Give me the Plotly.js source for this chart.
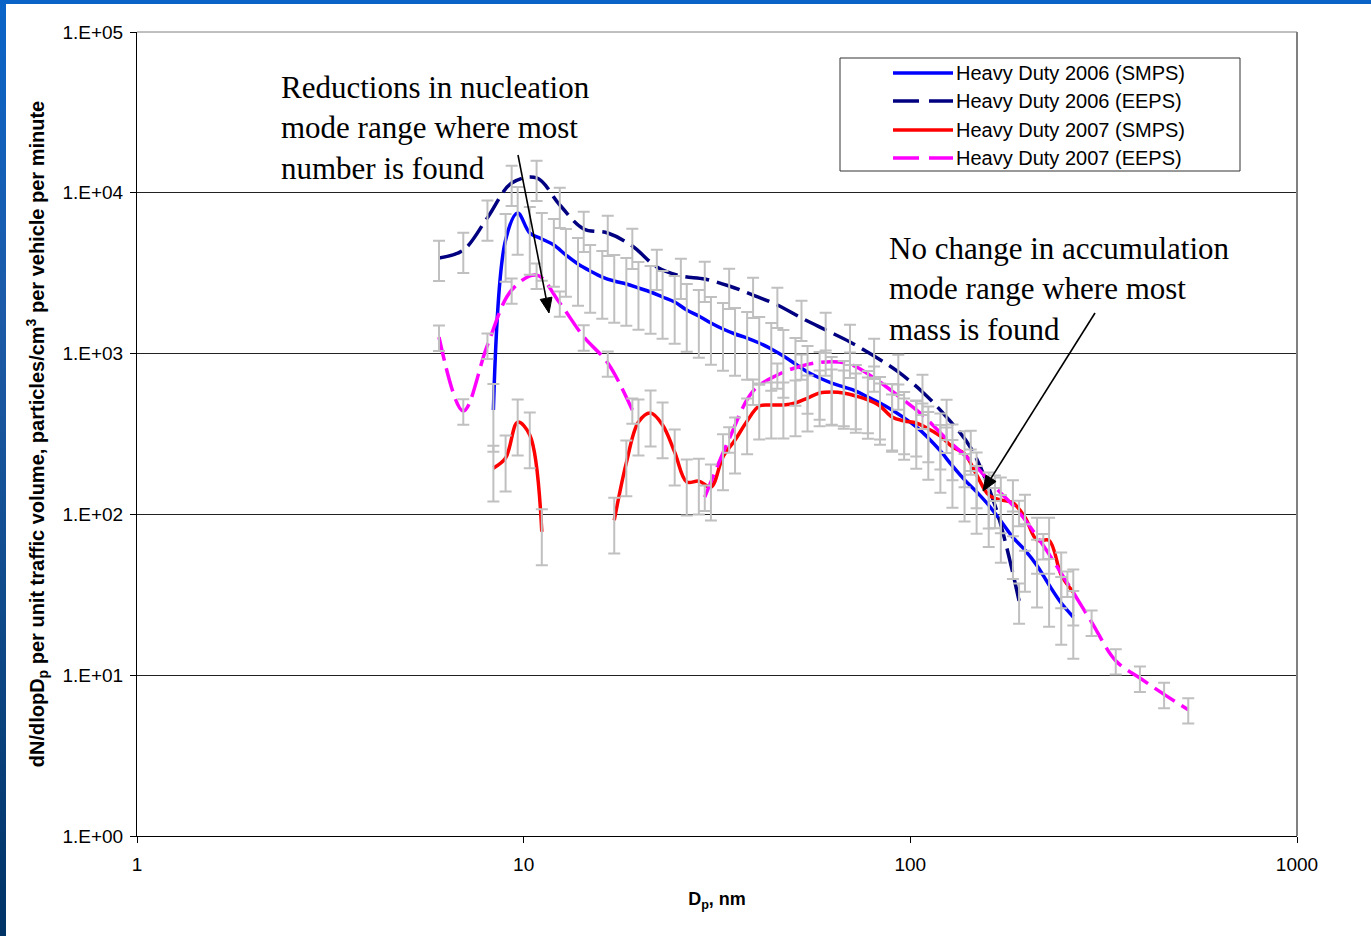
<!DOCTYPE html>
<html>
<head>
<meta charset="utf-8">
<script src="https://cdn.plot.ly/plotly-3.0.1.min.js"></script>
<style>
html,body{margin:0;padding:0;background:#fff;width:1371px;height:936px;overflow:hidden;}
#chart{position:absolute;left:0;top:0;width:1371px;height:936px;}
#topbar{position:absolute;left:0;top:0;width:1371px;height:4px;background:#0a64c8;z-index:5;}
#leftbar{position:absolute;left:0;top:0;width:6px;height:936px;background:linear-gradient(to bottom,#0a64c8 0%,#1d5aa6 35%,#0f4a8a 65%,#003366 100%);z-index:5;}
</style>
</head>
<body>
<div id="chart"></div>
<div id="topbar"></div>
<div id="leftbar"></div>
<script>
// ---- Data ----
const seriesNames = ["Heavy Duty 2006 (SMPS)", "Heavy Duty 2006 (EEPS)", "Heavy Duty 2007 (SMPS)", "Heavy Duty 2007 (EEPS)"];

// EEPS channel diameters, nm
const eepsDiam = [6.04, 6.98, 8.06, 9.31, 10.8, 12.4, 14.3, 16.5, 19.1, 22.1, 25.5, 29.4, 34.0, 39.2, 45.3, 52.3,
  60.4, 69.8, 80.6, 93.1, 107.5, 124.1, 143.3, 165.5, 191.1, 220.7, 254.8, 294.3, 339.8, 392.4, 453.2, 523.3];

// SMPS channel diameters, nm
const smpsDiam = [8.35, 8.98, 9.65, 10.37, 11.14, 11.97, 12.86, 13.82, 14.86, 15.97, 17.15, 18.43, 19.81, 21.29,
  22.87, 24.58, 26.41, 28.38, 30.50, 32.77, 35.21, 37.84, 40.66, 43.69, 46.95, 50.45, 54.22, 58.26, 62.60, 67.27,
  72.29, 77.68, 83.47, 89.70, 96.38, 103.6, 111.3, 119.6, 128.5, 138.1, 148.4, 159.5, 171.4, 184.2, 197.9, 212.7,
  228.5, 245.6, 263.9];

const hd2006Smps = [446, 5086, 7486, 5623, 5164, 4732, 4103, 3606, 3263, 2994, 2827, 2710, 2559, 2416, 2249, 2094,
  1867, 1714, 1549, 1422, 1324, 1250, 1164, 1069, 966, 861, 769, 705, 656, 620, 585, 537, 493, 446, 398, 350, 299,
  248, 200, 164, 138, 114, 91, 72, 60, 48, 36.4, 28.1, 23.0];

const hd2006Eeps = [3933, 4406, 7000, 11500, 12370, 8400, 5958, 5623, 4670, 3456, 3040, 2911, 2633, 2314, 2005, 1665,
  1402, 1181, 966, 769, 577, 403, 259, 114, 29, null, null, null, null, null, null, null];

const hd2007Smps = [194, 224, 375, 312, 78, null, null, null, null, null, 92, 209, 375, 427, 360, 244, 159, 161, 148,
  228, 290, 381, 472, 479, 479, 493, 529, 569, 577, 569, 545, 515, 472, 403, 381, 370, 340, 307, 263, 238, 176, 132,
  123, 118, 96, 69, 69, 42, 32.9];

const hd2007Eeps = [1268, 440, 1130, 2487, 3080, 2064, 1270, 874, 446, null, null, 128, 295, 585, 736, 838, 887, 861,
  705, 545, 415, 294, 215, 148, 103, 64, 37.4, 21.4, 12.3, 9.6, 7.6, 6.1];

// error bar size, percent of value (symmetric)
const errPct = [45, 28, 38, 18];

const xTickVals = [1, 10, 100, 1000];
const xTickText = ["1", "10", "100", "1000"];
const yTickVals = [1, 10, 100, 1000, 10000, 100000];
const yTickText = ["1.E+00", "1.E+01", "1.E+02", "1.E+03", "1.E+04", "1.E+05"];

const annotText1 = "Reductions in nucleation<br>mode range where most<br>number is found";
const annotText2 = "No change in accumulation<br>mode range where most<br>mass is found";

// ---- Styles ----
const colors = ["#0000FF", "#000080", "#FF0000", "#FF00FF"];
const dashes = ["solid", "24px,8px", "solid", "24px,8px"];
const LW = 3.5;

const xs = [smpsDiam, eepsDiam, smpsDiam, eepsDiam];
const ys = [hd2006Smps, hd2006Eeps, hd2007Smps, hd2007Eeps];

const traces = [];
for (let i = 0; i < 4; i++) {
  traces.push({
    type: "scatter", mode: "lines", name: seriesNames[i], x: xs[i], y: ys[i],
    line: {color: colors[i], width: LW, dash: dashes[i], shape: "spline", smoothing: 1},
    connectgaps: false, showlegend: false, hoverinfo: "skip"
  });
}
for (let i = 0; i < 4; i++) {
  traces.push({
    type: "scatter", mode: "markers", name: seriesNames[i] + " err", x: xs[i], y: ys[i],
    marker: {size: 1, color: "rgba(0,0,0,0)"},
    error_y: {type: "percent", value: errPct[i], symmetric: true, color: "#C0C0C0", thickness: 2, width: 6},
    showlegend: false, hoverinfo: "skip"
  });
}

// plot area in pixels
const L = 137, R = 1297, T = 32, B = 836;
const px = v => (v - L) / (R - L);
const py = v => (B - v) / (B - T);

const shapes = [
  {type: "line", xref: "paper", yref: "paper", x0: 0, x1: 1, y0: 1, y1: 1, line: {color: "#808080", width: 1}, layer: "above"},
  {type: "line", xref: "paper", yref: "paper", x0: 1, x1: 1, y0: 0, y1: 1, line: {color: "#808080", width: 2}, layer: "above"},
  {type: "rect", xref: "paper", yref: "paper", x0: px(840), x1: px(1240), y0: py(171), y1: py(58),
    line: {color: "#333333", width: 1}, fillcolor: "#FFFFFF", layer: "above"}
];
const legendY = [73, 101, 130, 158];
const annotations = [];
for (let i = 0; i < 4; i++) {
  shapes.push({type: "line", xref: "paper", yref: "paper", x0: px(893), x1: px(953), y0: py(legendY[i]), y1: py(legendY[i]),
    line: {color: colors[i], width: LW, dash: dashes[i] === "solid" ? "solid" : "26px,10px"}, layer: "above"});
  annotations.push({xref: "paper", yref: "paper", x: px(954), y: py(legendY[i]), xanchor: "left", yanchor: "middle",
    text: seriesNames[i], showarrow: false, font: {family: "Liberation Sans, Arial", size: 20, color: "#000"}});
}
annotations.push({xref: "paper", yref: "paper", x: px(279), y: py(128), xanchor: "left", yanchor: "middle", align: "left",
  text: annotText1, showarrow: false, font: {family: "Liberation Serif, Times New Roman", size: 31, color: "#000"}});
annotations.push({xref: "paper", yref: "paper", x: px(887), y: py(289), xanchor: "left", yanchor: "middle", align: "left",
  text: annotText2, showarrow: false, font: {family: "Liberation Serif, Times New Roman", size: 31, color: "#000"}});

// arrows drawn as line + filled triangle (pixel endpoints of the callout arrows)
function arrow(tx, ty, hx, hy) {
  const dx = hx - tx, dy = hy - ty, len = Math.hypot(dx, dy);
  const ux = dx / len, uy = dy / len, hl = 15, hw = 6;
  const bx = hx - ux * hl, by = hy - uy * hl;
  shapes.push({type: "line", xref: "paper", yref: "paper", x0: px(tx), y0: py(ty), x1: px(bx), y1: py(by),
    line: {color: "#000", width: 1.6}, layer: "above"});
  const p1 = [bx - uy * hw, by + ux * hw], p2 = [bx + uy * hw, by - ux * hw];
  shapes.push({type: "path", xref: "paper", yref: "paper",
    path: `M ${px(hx)} ${py(hy)} L ${px(p1[0])} ${py(p1[1])} L ${px(p2[0])} ${py(p2[1])} Z`,
    fillcolor: "#000", line: {color: "#000", width: 1}, layer: "above"});
}
arrow(518, 155, 549, 313);
arrow(1095, 313, 983, 491);

const layout = {
  width: 1371, height: 936,
  margin: {l: L, r: 1371 - R, t: T, b: 936 - B},
  paper_bgcolor: "#FFFFFF", plot_bgcolor: "#FFFFFF",
  showlegend: false,
  font: {family: "Liberation Sans, Arial", color: "#000"},
  xaxis: {
    type: "log", range: [0, 3], tickvals: xTickVals, ticktext: xTickText,
    ticks: "outside", ticklen: 6, tickcolor: "#000", tickwidth: 1, ticklabelstandoff: 5,
    showline: true, linecolor: "#000", linewidth: 1, showgrid: false, zeroline: false,
    tickfont: {family: "Liberation Sans, Arial", size: 19, color: "#000"},
    title: {text: "<b>D<sub>p</sub>, nm</b>", font: {family: "Liberation Sans, Arial", size: 18, color: "#000"}, standoff: 18}
  },
  yaxis: {
    type: "log", range: [0, 5], tickvals: yTickVals, ticktext: yTickText,
    ticks: "outside", ticklen: 6, tickcolor: "#000", tickwidth: 1, ticklabelstandoff: 3,
    showline: true, linecolor: "#000", linewidth: 1, showgrid: true, gridcolor: "#222", gridwidth: 1, zeroline: false,
    tickfont: {family: "Liberation Sans, Arial", size: 19, color: "#000"},
    title: {text: "<b>dN/dlopD<sub>p</sub> per unit traffic volume, particles/cm<sup>3</sup> per vehicle per minute</b>",
      font: {family: "Liberation Sans, Arial", size: 20, color: "#000"}, standoff: 12}
  },
  shapes: shapes,
  annotations: annotations
};

Plotly.newPlot("chart", traces, layout, {displayModeBar: false, staticPlot: true});
</script>
</body>
</html>
